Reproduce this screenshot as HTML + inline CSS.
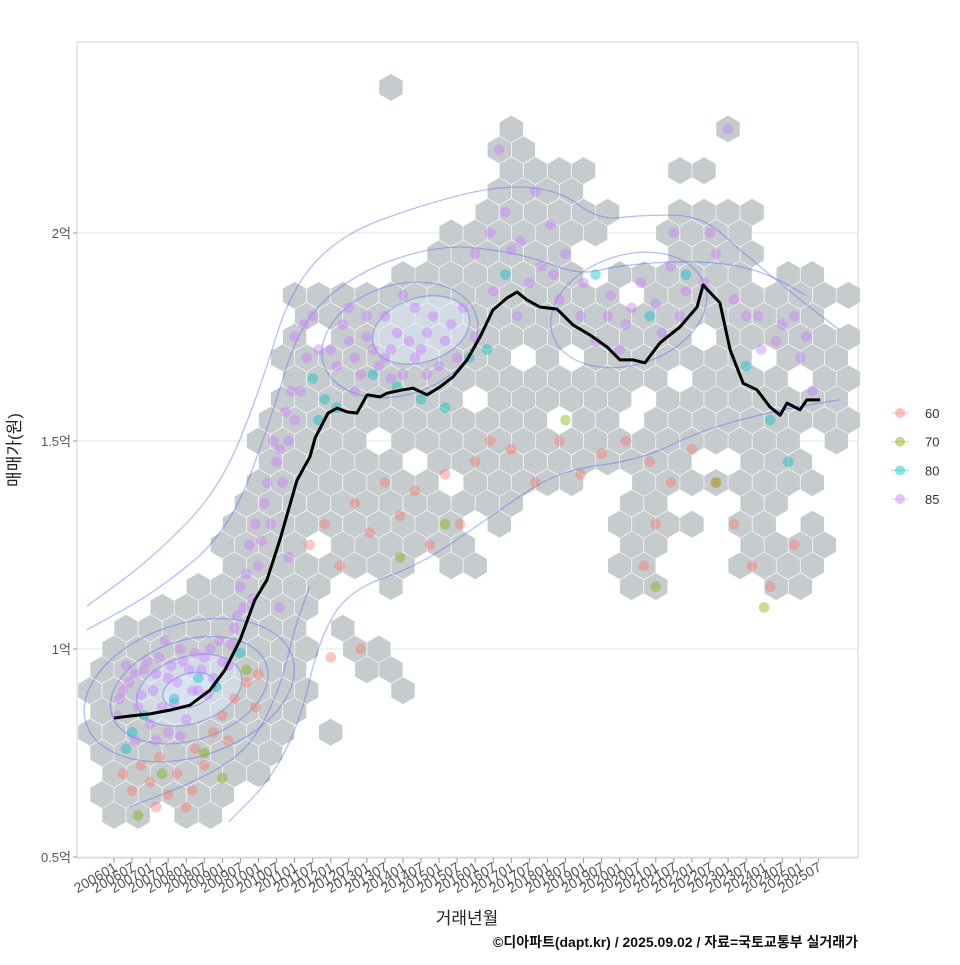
<!DOCTYPE html>
<html><head><meta charset="utf-8"><style>
body{margin:0;background:#fff;}
svg text{font-family:"Liberation Sans","Noto Sans CJK KR",sans-serif;}
</style></head><body>
<svg id="chart" width="960" height="960" viewBox="0 0 960 960" xmlns="http://www.w3.org/2000/svg">
<rect x="0" y="0" width="960" height="960" fill="#fff"/>
<g id="grid"></g>
<g id="hexes"></g>
<g id="contours"></g>
<g id="points"></g>
<g id="trend"></g>
<rect x="77" y="42" width="781" height="816" fill="none" stroke="#d0d0d0" stroke-width="1"/>
<g id="axes"></g>
<text transform="translate(20,450) rotate(-90)" text-anchor="middle" font-size="17" fill="#222">매매가(원)</text>
<text x="467" y="924" text-anchor="middle" font-size="17" fill="#222">거래년월</text>
<text x="858" y="947" text-anchor="end" font-size="14" font-weight="bold" fill="#111">©디아파트(dapt.kr) / 2025.09.02 / 자료=국토교통부 실거래가</text>
<g id="legend"></g>
</svg>
<script>
const yTicks=[0.5,1,1.5,2];
const yTickLabels=["0.5억","1억","1.5억","2억"];
const xTickLabels=[];
for(let y=2006;y<=2025;y++){xTickLabels.push(y+"01");xTickLabels.push(y+"07");}
const legendLabels=["60","70","80","85"];
const typeColors=["#F8766D","#7CAE00","#00BFC4","#C77CFF"];
// hex rows: [price, startMonth, endMonth]
const hexRows=[
[0.60,0,9],[0.60,24,32],[0.65,0,45],[0.70,0,49],[0.75,-5,52],[0.80,-5,59],[0.80,72,75],
[0.85,-5,62],[0.90,-5,62],[0.90,94,96],[0.95,-5,62],[0.95,85,95],[1.00,2,62],[1.00,79,89],
[1.05,5,62],[1.05,77,79],[1.10,15,65],[1.15,29,65],[1.15,89,95],[1.15,175,182],[1.15,222,229],
[1.20,39,99],[1.20,112,119],[1.20,172,178],[1.20,205,229],[1.25,39,119],[1.25,172,179],[1.25,215,235],
[1.30,39,129],[1.30,172,189],[1.30,212,219],[1.30,229,232],[1.35,42,135],[1.35,172,179],[1.35,212,219],
[1.40,45,149],[1.40,175,219],[1.40,225,235],[1.45,49,229],[1.50,52,240],[1.55,55,240],[1.60,55,240],
[1.65,59,240],[1.70,59,240],[1.75,59,240],[1.80,62,235],[1.85,62,240],[1.90,99,149],[1.90,169,209],
[1.90,222,229],[1.95,109,162],[1.95,189,209],[2.00,115,162],[2.00,182,209],[2.05,122,155],[2.05,162,162],
[2.05,189,209],[2.10,125,155],[2.15,129,152],[2.15,185,192],[2.20,125,135],[2.25,129,129],[2.25,202,202],[2.35,94,94]];
// empty bins inside the band: [month, price]
const hexHoles=[[171,1.863],[195,1.767],[215,1.70],[175,1.615],[151.5,1.534],[171,1.534],[190,1.63],[225.6,1.654],[68.4,1.767],[136,1.67],[121.6,1.615],[86,1.50],[100.7,1.46],[84,1.286],[69.4,1.262],[119,1.286],[235,1.5],[160,1.95],[200,1.45],[60,0.75],[48,0.65],[150,1.7],[110,1.4]];
const trendMonths=[0,5.3,12,18.6,25.2,31.9,36.9,41.9,46.8,50.8,55.1,60.8,65.1,66.8,71.1,74.1,77.4,80.7,84.1,88.4,90.7,96,99.3,104,108.3,112.6,117.3,121.6,125.9,130.6,133.9,137.2,141.5,147.2,152.5,158.1,163.8,168.1,172.4,176.4,181.4,188,193.7,195.7,201.3,204.7,209,213.6,217.9,221.3,223.6,227.9,230.2,234.6];
const trendValues=[0.834,0.839,0.844,0.853,0.865,0.901,0.95,1.022,1.118,1.166,1.262,1.406,1.462,1.507,1.567,1.579,1.57,1.567,1.611,1.606,1.615,1.623,1.627,1.611,1.63,1.654,1.695,1.75,1.815,1.844,1.858,1.839,1.822,1.817,1.779,1.755,1.726,1.695,1.695,1.688,1.736,1.774,1.822,1.875,1.832,1.719,1.639,1.623,1.582,1.562,1.591,1.575,1.599,1.599];
// points: [month, price, typeIndex]
const points=[
[2,0.88,3],[5,0.92,3],[8,0.86,3],[10,0.95,3],[13,0.9,3],[15,0.98,3],[18,0.93,3],[20,0.87,3],[22,1.0,3],[25,0.95,3],[28,0.9,3],[30,0.98,3],[33,0.93,3],[35,1.02,3],[38,0.96,3],[40,1.05,3],[12,0.82,3],[18,0.8,3],[24,0.83,3],[6,0.8,2],[10,0.84,2],[20,0.88,2],[28,0.93,2],[34,0.91,2],[4,0.76,2],[42,0.99,2],
[1,0.84,3],[3,0.9,3],[7,0.94,3],[9,0.89,3],[11,0.97,3],[14,0.94,3],[16,0.86,3],[19,0.96,3],[21,0.92,3],[23,0.97,3],[26,0.9,3],[27,0.99,3],[29,0.95,3],[31,0.89,3],[32,1.0,3],[36,0.97,3],[39,1.01,3],[41,1.08,3],[43,1.1,3],[7,0.78,3],[14,0.78,3],[22,0.79,3],[4,0.96,3],[17,1.02,3],
[3,0.7,0],[6,0.66,0],[9,0.72,0],[12,0.68,0],[15,0.74,0],[18,0.65,0],[21,0.7,0],[24,0.62,0],[27,0.76,0],[30,0.72,0],[33,0.8,0],[36,0.84,0],[40,0.88,0],[44,0.92,0],[47,0.86,0],[14,0.62,0],[26,0.66,0],[38,0.78,0],[16,0.7,1],[30,0.75,1],[36,0.69,1],[44,0.95,1],[8,0.6,1],[48,0.94,0],
[42,1.15,3],[45,1.25,3],[48,1.2,3],[50,1.35,3],[52,1.3,3],[54,1.45,3],[56,1.4,3],[58,1.5,3],[60,1.55,3],[62,1.62,3],[64,1.7,3],[60,1.75,3],[58,1.22,3],[55,1.1,3],[66,1.65,2],[70,1.6,2],[68,1.55,2],[74,1.58,2],
[44,1.18,3],[47,1.3,3],[49,1.26,3],[51,1.4,3],[53,1.5,3],[55,1.48,3],[57,1.57,3],[59,1.62,3],[46,1.12,3],[63,1.78,3],[66,1.8,3],[68,1.72,3],
[72,1.72,3],[76,1.78,3],[80,1.7,3],[84,1.75,3],[88,1.68,3],[92,1.72,3],[96,1.66,3],[100,1.7,3],[104,1.76,3],[108,1.68,3],[112,1.78,3],[116,1.82,3],[120,1.75,3],[90,1.8,3],[100,1.82,3],[80,1.62,3],[86,1.66,2],[94,1.63,2],[102,1.6,2],[110,1.58,2],[118,1.7,2],[124,1.72,2],[130,1.9,2],
[74,1.68,3],[78,1.74,3],[82,1.66,3],[86,1.72,3],[90,1.7,3],[94,1.76,3],[98,1.74,3],[102,1.72,3],[106,1.8,3],[110,1.74,3],[114,1.7,3],[84,1.8,3],[96,1.85,3],[104,1.66,3],[92,1.65,3],[78,1.82,3],
[120,1.95,3],[125,2.0,3],[130,2.05,3],[135,1.98,3],[140,2.1,3],[145,2.02,3],[150,1.95,3],[128,2.2,3],[138,1.88,3],[146,1.9,3],[155,1.8,3],[160,1.74,3],[165,1.85,3],[170,1.78,3],[175,1.88,3],[180,1.83,3],[185,1.92,3],[190,1.86,3],[200,1.95,3],[210,1.8,3],[215,1.72,3],[222,1.78,3],[228,1.7,3],[232,1.62,3],[204,2.25,3],[178,1.8,2],[190,1.9,2],[210,1.68,2],[224,1.45,2],[218,1.55,2],[160,1.9,2],
[132,1.96,3],[142,1.92,3],[126,1.86,3],[134,1.8,3],[148,1.84,3],[156,1.88,3],[164,1.8,3],[168,1.72,3],[172,1.82,3],[182,1.76,3],[188,1.8,3],[196,1.88,3],[206,1.84,3],[214,1.8,3],[220,1.74,3],[226,1.8,3],[230,1.75,3],[198,2.0,3],[186,2.0,3],
[65,1.25,0],[70,1.3,0],[75,1.2,0],[80,1.35,0],[85,1.28,0],[90,1.4,0],[95,1.32,0],[100,1.38,0],[105,1.25,0],[110,1.42,0],[115,1.3,0],[120,1.45,0],[125,1.5,0],[132,1.48,0],[140,1.4,0],[148,1.5,0],[155,1.42,0],[162,1.47,0],[170,1.5,0],[178,1.45,0],[185,1.4,0],[192,1.48,0],[200,1.4,0],[206,1.3,0],[212,1.2,0],[218,1.15,0],[226,1.25,0],[176,1.2,0],[180,1.3,0],[82,1.0,0],[72,0.98,0],[95,1.22,1],[150,1.55,1],[180,1.15,1],[216,1.1,1],[200,1.4,1],[110,1.3,1]];
const contourLines=[
[[-9,1.103],[12,1.214],[35,1.382],[48.5,1.623],[58.5,1.863],[75,1.995],[102,2.067],[128,2.115],[148,2.103],[161,2.031],[175,2.043],[195,2.043],[208,1.959],[228,1.839],[241,1.767]],
[[38,0.584],[52,0.685],[62,0.829],[68,1.022],[78,1.142],[102,1.202],[128,1.334],[148,1.43],[175,1.454],[195,1.526],[221,1.575],[241,1.599]],
[[-9,1.046],[15,1.142],[38.5,1.286],[52,1.55],[62,1.791],[82,1.911],[108,1.971],[128,1.959],[141.5,1.935],[155,1.899],[168,1.923],[195,1.935],[215,1.911],[230,1.85]],
[[5,0.62],[28.5,0.685],[45,0.76],[55,0.9],[60,1.05],[65,1.15]]];
const ellipses=[[95,1.743,26.6,0.132],[102,1.767,16.6,0.077],[171,1.815,26.6,0.132],[25,0.901,36,0.16],[25,0.901,27,0.12],[25,0.901,18,0.08],[25,0.901,9,0.04]];

const NS="http://www.w3.org/2000/svg";
const X0=114,PXM=3.01,Y0=857,PXP=416;
const sx=m=>X0+m*PXM, sy=p=>Y0-(p-0.5)*PXP;
function el(t,a,parent){const e=document.createElementNS(NS,t);for(const k in a)e.setAttribute(k,a[k]);parent.appendChild(e);return e;}
const grid=document.getElementById('grid'),axes=document.getElementById('axes');
yTicks.forEach((v,i)=>{
  const g=el('line',{x1:77,x2:858,y1:sy(v),y2:sy(v),stroke:'#e3e3e3','stroke-width':1},grid);
  
  
  const t=el('line',{x1:73,x2:77,y1:sy(v),y2:sy(v),stroke:'#999'},axes);
  
  
  const tx=el('text',{x:71,y:sy(v)+5,'text-anchor':'end','font-size':13,fill:'#555'},axes);
  tx.textContent=yTickLabels[i];
  
  
});
xTickLabels.forEach((lab,i)=>{
  const x=sx(i*6);
  const t=el('line',{x1:x,x2:x,y1:858,y2:863,stroke:'#999'},axes);
  
  
  const tx=el('text',{x:0,y:0,'text-anchor':'end','font-size':14,fill:'#555',transform:`translate(${x+4},${870}) rotate(-30)`},axes);
  tx.textContent=lab;
  
  
});
// hexes
const hx=document.getElementById('hexes');
const HM=8,HP=0.05,R=13.5;
hexRows.forEach(r=>{
  const row=Math.round((r[0]-0.6)/HP), off=(row%2)?4:0;
  for(let m=off-8;m<=248;m+=HM){
    if(m<r[1]-4||m>r[2]+4) continue;
    const cx=sx(m),cy=sy(r[0]);
    if(hexHoles.some(h=>Math.hypot(sx(h[0])-cx,sy(h[1])-cy)<12.5)) continue;
    let pts=[];for(let k=0;k<6;k++){const a=Math.PI/3*k+Math.PI/6;pts.push((cx+R*Math.cos(a)).toFixed(1)+','+(cy+R*Math.sin(a)).toFixed(1));}
    const h=el('polygon',{points:pts.join(' '),fill:'#c6cbce'},hx);
    
    
  }
});
// contours
const cg=document.getElementById('contours');
ellipses.forEach((e,i)=>{
  const c=el('ellipse',{cx:sx(e[0]),cy:sy(e[1]),rx:e[2]*PXM,ry:e[3]*PXP,fill:i==1||i>=5?'rgba(225,238,252,0.45)':'none',stroke:'rgba(90,110,240,0.45)','stroke-width':1.3,transform:`rotate(-18 ${sx(e[0])} ${sy(e[1])})`},cg);
  
  
});
contourLines.forEach(l=>{
  let d='M'+sx(l[0][0])+','+sy(l[0][1]);
  for(let i=1;i<l.length;i++){const p0=l[i-1],p1=l[i];const mx=(sx(p0[0])+sx(p1[0]))/2,my=(sy(p0[1])+sy(p1[1]))/2;d+=` Q${sx(p0[0])},${sy(p0[1])} ${mx},${my}`;}
  d+=` L${sx(l[l.length-1][0])},${sy(l[l.length-1][1])}`;
  const p=el('path',{d:d,fill:'none',stroke:'rgba(90,110,240,0.45)','stroke-width':1.3},cg);
  
  
});
// points
const pg=document.getElementById('points');
points.forEach(p=>{
  const c=el('circle',{cx:sx(p[0]),cy:sy(p[1]),r:5.3,fill:typeColors[p[2]],'fill-opacity':0.42},pg);
  
  
});
// trend
const tg=document.getElementById('trend');
const tl=el('polyline',{points:trendMonths.map((m,i)=>sx(m)+','+sy(trendValues[i])).join(' '),fill:'none',stroke:'#000','stroke-width':3,'stroke-linejoin':'round'},tg);


// legend
const lg=document.getElementById('legend');
legendLabels.forEach((lab,i)=>{
  const y=413+i*28.7;
  const g=el('g',{},lg);
  
  
  el('line',{x1:891,x2:909,y1:y,y2:y,stroke:typeColors[i],'stroke-opacity':0.4,'stroke-width':1},g);
  el('circle',{cx:900,cy:y,r:5,fill:typeColors[i],'fill-opacity':0.45},g);
  const t=el('text',{x:925,y:y+5,'font-size':13,fill:'#333'},g);
  t.textContent=lab;
});
</script>
</body></html>
